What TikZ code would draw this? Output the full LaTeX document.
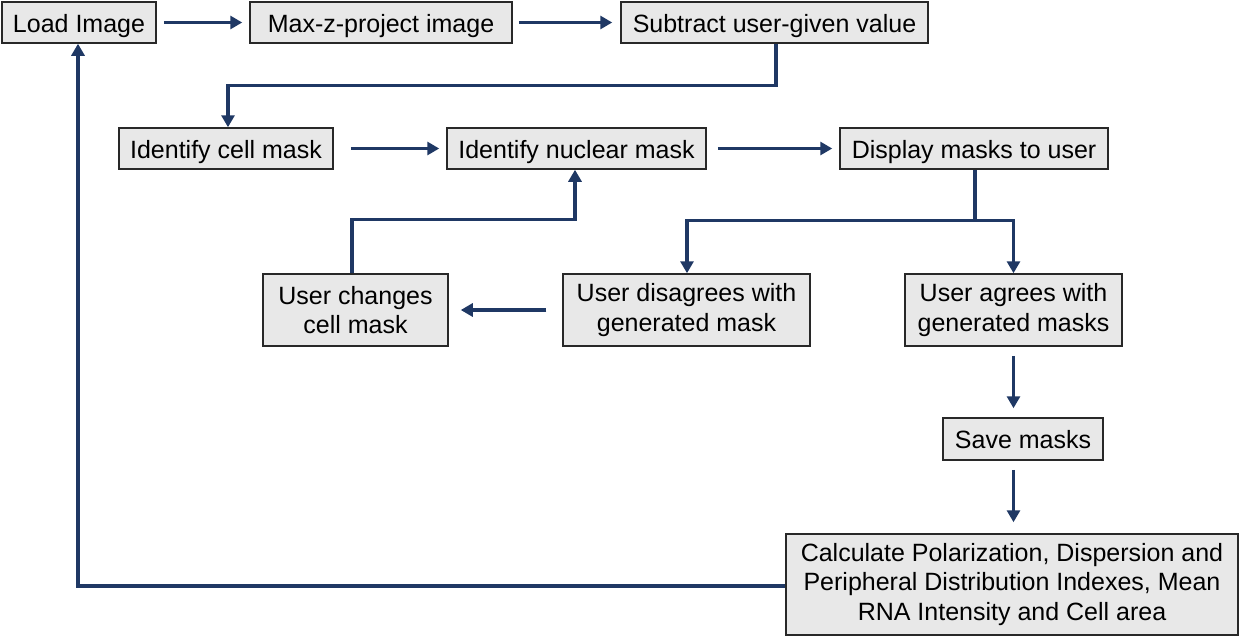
\documentclass[tikz,border=0pt]{standalone}
\usepackage{fontspec}
\setmainfont{Liberation Sans}
\usetikzlibrary{arrows.meta,calc}
\definecolor{navy}{RGB}{31,56,100}
\definecolor{boxfill}{RGB}{232,232,232}
\definecolor{boxline}{RGB}{40,40,40}
\begin{document}
\begin{tikzpicture}[x=1pt,y=-1pt,
  box/.style={draw=boxline,line width=1.5pt,fill=boxfill,inner sep=0pt,align=center,
    font=\fontsize{25}{29.5}\selectfont},
  onebox/.style={box,text height=22pt,text depth=3pt},
  conn/.style={draw=navy,line width=3.2pt},
  arr/.style={conn,-{Triangle[length=12pt,width=13pt]}}]
\useasboundingbox (0,0) rectangle (1242,637);
\node[onebox,minimum width=154pt,minimum height=41pt] (load) at (79,22.5) {Load Image};
\node[onebox,minimum width=262pt,minimum height=41pt] (maxz) at (381,22.5) {Max-z-project image};
\node[onebox,minimum width=307pt,minimum height=41pt] (sub) at (774.5,22.5) {Subtract user-given value};
\node[onebox,minimum width=214pt,minimum height=41pt] (cell) at (226,148.5) {Identify cell mask};
\node[onebox,minimum width=259pt,minimum height=41pt] (nuc) at (576.5,148.5) {Identify nuclear mask};
\node[onebox,minimum width=268pt,minimum height=41pt] (disp) at (974,148.5) {Display masks to user};
\node[box,minimum width=185pt,minimum height=72pt] (chg) at (355.5,310) {User changes\\cell mask};
\node[box,minimum width=247pt,minimum height=72pt] (dis) at (686.5,310) {User disagrees with\\generated mask};
\node[box,minimum width=217pt,minimum height=72pt] (agr) at (1013.5,310) {User agrees with\\generated masks};
\node[onebox,minimum width=160pt,minimum height=42pt] (save) at (1023,439) {Save masks};
\node[box,minimum width=452pt,minimum height=101pt] (calc) at (1012,584.5) {Calculate Polarization, Dispersion and\\Peripheral Distribution Indexes, Mean\\RNA Intensity and Cell area};

\draw[arr,shorten <=7pt,shorten >=7pt] (load.east) -- (maxz.west);
\draw[arr,shorten <=6pt,shorten >=8pt] (maxz.east) -- (sub.west);
\draw[arr] ([xshift=1.5pt]sub.south) -- ++(0,42) -| ([xshift=2pt]cell.north);
\draw[arr,shorten <=17pt,shorten >=7pt] (cell.east) -- (nuc.west);
\draw[arr,shorten <=11pt,shorten >=7pt] (nuc.east) -- (disp.west);
\draw[conn] ([xshift=1pt]disp.south) -- ++(0,51) coordinate (br);
\draw[arr] (br) -| ([xshift=0.5pt]dis.north);
\draw[arr] (br) -| (agr.north);
\draw[arr,shorten <=16pt,shorten >=12pt] (dis.west) -- (chg.east);
\draw[arr] ([xshift=-3.5pt]chg.north) -- ++(0,-54) -| ([xshift=-1.5pt]nuc.south);
\draw[arr,shorten <=9pt,shorten >=9pt] (agr.south) -- (agr.south |- save.north);
\draw[arr,shorten <=9pt,shorten >=11pt] (save.south -| agr.south) -- (agr.south |- calc.north);
\draw[arr] ([yshift=-1.5pt]calc.west) -| ([xshift=-1pt]load.south);
\end{tikzpicture}
\end{document}
